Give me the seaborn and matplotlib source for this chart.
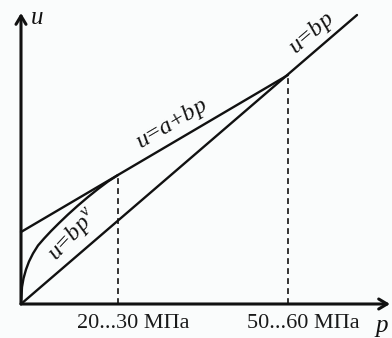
import matplotlib
matplotlib.use("Agg")
import matplotlib.pyplot as plt
import seaborn as sns
import pandas as pd

# ---- data (arbitrary units) ----
curve_p = [0, 1, 2.5, 5, 8, 12, 17, 23, 30, 38, 47, 57, 67, 77, 87, 97]
curve_u = [0, 17, 25.5, 34.5, 42.5, 50.5, 58.5, 65.4, 72.9, 80.9, 89.5, 98.5, 107, 115, 122.5, 129]
line_abp_p = [0, 267]
line_abp_u = [72, 229]
line_bp_p = [0, 336]
line_bp_u = [0, 289]
mark_p = [97, 267]
mark_u = [129, 229]
tick_labels = ["20...30 МПа", "50...60 МПа"]
curve_labels = [r"$u\!=\!bp^{\nu}$", r"$u\!=\!a\!+\!bp$", r"$u\!=\!bp$"]

sns.set_theme(style="white")
plt.rcParams["font.family"] = ["Liberation Serif", "DejaVu Serif"]
plt.rcParams["mathtext.fontset"] = "custom"
plt.rcParams["mathtext.it"] = "Liberation Serif:italic"
plt.rcParams["mathtext.rm"] = "Liberation Serif"

bg = "#fafcfc"
fig = plt.figure(figsize=(3.92, 3.38), dpi=100, facecolor=bg)
ax = fig.add_axes([0, 0, 1, 1])
ax.set_facecolor(bg)
ax.set_xlim(-21, 371)
ax.set_ylim(-34, 304)
ax.set_axis_off()

k = "#111111"
df_curve = pd.DataFrame({"p": curve_p, "u": curve_u})
sns.lineplot(data=df_curve, x="p", y="u", ax=ax, color=k, lw=1.7, sort=False)
sns.lineplot(x=line_abp_p, y=line_abp_u, ax=ax, color=k, lw=1.7)
sns.lineplot(x=line_bp_p, y=line_bp_u, ax=ax, color=k, lw=1.7)

for p, u in zip(mark_p, mark_u):
    ax.plot([p, p], [0, u], color=k, lw=1.2, ls=(0, (3.5, 2.5)))

# axes with arrows
ax.annotate("", xy=(369, 0), xytext=(0, 0),
            arrowprops=dict(arrowstyle="->,head_length=0.5,head_width=0.3", color=k, lw=2.2,
                            shrinkA=0, shrinkB=0))
ax.annotate("", xy=(0, 291), xytext=(0, 0),
            arrowprops=dict(arrowstyle="->,head_length=0.5,head_width=0.3", color=k, lw=2.2,
                            shrinkA=0, shrinkB=0))

ax.text(16, 286, "u", style="italic", fontsize=18, ha="center", va="center", color=k)
ax.text(361, -22, "p", style="italic", fontsize=18, ha="center", va="center", color=k)

for p, lab in zip(mark_p, tick_labels):
    ax.annotate(lab, xy=(p, -19), xytext=(15, 0), textcoords="offset pixels",
                ha="center", va="center", fontsize=16, color="#1a1a1a")

label_pos = [(52, 69, 47), (151, 180, 30.5), (291, 271, 40.6)]
for lab, (p, u, rot) in zip(curve_labels, label_pos):
    ax.text(p, u, lab, fontsize=17.5, rotation=rot, rotation_mode="anchor",
            ha="center", va="center", color=k)

fig.savefig("out.png", dpi=100, facecolor=bg)
